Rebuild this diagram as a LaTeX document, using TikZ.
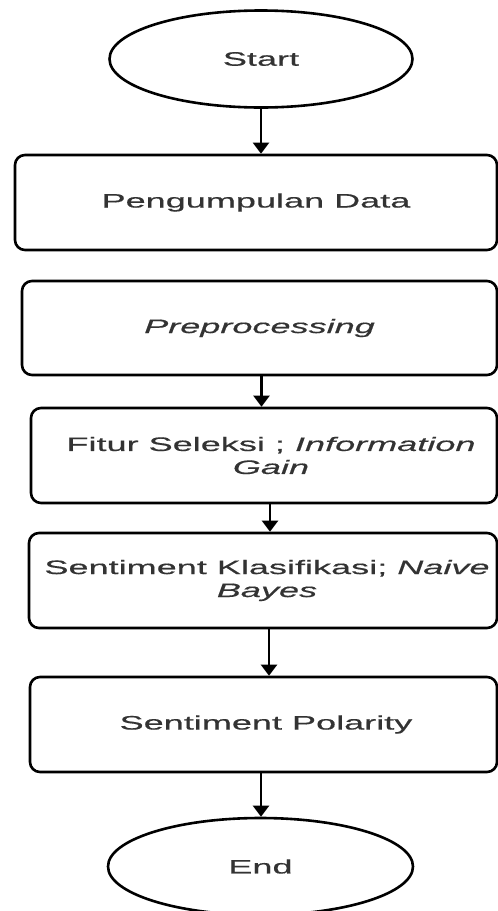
\documentclass[tikz,border=0pt]{standalone}
\usepackage{fontspec}
\newfontfamily\diagfont{Liberation Sans}[FakeStretch=1.85,FakeBold=0.5]
\usetikzlibrary{shapes.geometric,arrows.meta}
\definecolor{txt}{HTML}{333333}
\begin{document}
\begin{tikzpicture}[x=1pt,y=1pt,
  every node/.style={font=\diagfont\fontsize{19.5}{23}\selectfont, text=txt},
  term/.style={ellipse, draw=black, line width=2.6pt, minimum width=303pt, minimum height=97pt, inner sep=0pt},
  proc/.style={rectangle, rounded corners=10pt, draw=black, line width=2.6pt, inner sep=0pt, align=center},
  arr/.style={-{Triangle[width=16pt,length=11pt]}, line width=2.2pt, draw=black}]
\useasboundingbox (0,0) rectangle (498,-911);
\node[term] (start) at (261,-59) {Start};
\node[proc, minimum width=482pt, minimum height=95pt] (peng) at (256,-202.5) {Pengumpulan Data};
\node[proc, minimum width=475pt, minimum height=94pt] (pre) at (259.5,-328) {\textit{Preprocessing}};
\node[proc, minimum width=466pt, minimum height=95pt] (fitur) at (264,-455.5) {\hspace*{14pt}Fitur Seleksi ; \textit{Information}\\\hspace*{14pt}\textit{Gain}};
\node[proc, minimum width=468pt, minimum height=95pt] (klas) at (263,-580.5) {\hspace*{8pt}Sentiment Klasifikasi; \textit{Naive}\\\hspace*{8pt}\textit{Bayes}};
\node[proc, minimum width=467pt, minimum height=95pt] (pol) at (263.5,-724.5) {\hspace*{5pt}Sentiment Polarity};
\node[term, minimum width=305pt] (end) at (260.5,-866.5) {End};
\draw[arr] (start.south) -- (start.south |- peng.north);
\draw[arr] ([xshift=2pt]pre.south) -- ([xshift=2pt]pre.south |- fitur.north);
\draw[arr] ([xshift=6pt]fitur.south) -- ([xshift=6pt]fitur.south |- klas.north);
\draw[arr] ([xshift=6pt]klas.south) -- ([xshift=6pt]klas.south |- pol.north);
\draw[arr] ([xshift=-2.5pt]pol.south) -- ([xshift=-2.5pt]pol.south |- end.north);
\end{tikzpicture}
\end{document}
